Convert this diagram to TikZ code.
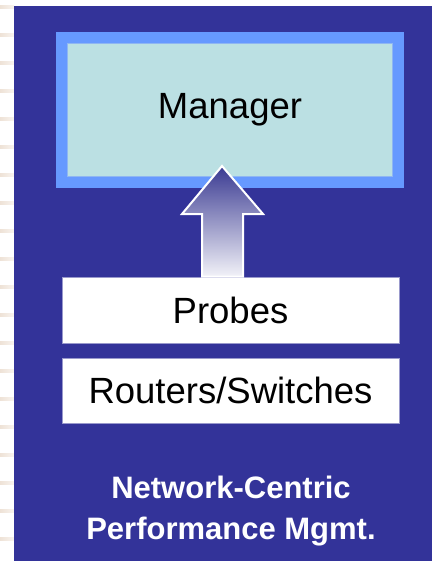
\documentclass[tikz,border=0pt]{standalone}
\usepackage{fontspec}
\setmainfont{Liberation Sans}
\usetikzlibrary{calc}
\definecolor{panelblue}{HTML}{333399}
\definecolor{mgrborder}{HTML}{6699FF}
\definecolor{mgrinner}{HTML}{8FB6F2}
\definecolor{mgrfill}{HTML}{BBE0E3}
\definecolor{boxedge}{HTML}{9999CC}
\definecolor{stripe}{HTML}{EEE2D6}
\definecolor{arrowtop}{HTML}{3A3A92}
\definecolor{arrowbot}{HTML}{F2F2F8}
\tikzset{
  layerbox/.style={draw=boxedge, line width=0.8pt, fill=white, minimum width=337pt,
    inner sep=0pt, font=\fontsize{36.5}{40}\selectfont},
  managerbox/.style={draw=mgrborder, line width=12pt, fill=mgrfill, minimum width=336pt,
    minimum height=144pt, inner sep=0pt, font=\fontsize{36.5}{40}\selectfont},
  caption/.style={text=white, align=center, inner sep=0pt,
    font=\bfseries\fontsize{31}{41}\selectfont},
  uparrow/.style={top color=arrowtop, bottom color=arrowbot, draw=white, line width=2pt,
    line join=miter},
  marginrule/.style={left color=stripe, right color=white!60!stripe}
}
\begin{document}
\begin{tikzpicture}[x=1pt,y=-1pt]
\useasboundingbox (0,0) rectangle (432,561);
\fill[white] (0,0) rectangle (432,561);
% faint ruled margin on the left
\foreach \k in {0,...,19}{
  \pgfmathsetmacro{\yy}{7+28*\k}
  \shade[marginrule] (0,\yy-1.5) rectangle (14,\yy+1.5);
}
% dark slide panel
\fill[panelblue] (14,6) rectangle (432,561);

\node[managerbox] (mgr) at (230,110) {Manager};
% thin light rim along the inner edge of the manager frame
\draw[mgrinner, line width=0.8pt] ($(mgr.south west)+(11.6,-11.6)$) rectangle ($(mgr.north east)+(-11.6,11.6)$);
\node[layerbox, minimum height=66pt] (probes) at (230.5,310) {Probes};
\node[layerbox, minimum height=65pt] (routers) at (230.5,390.5) {Routers/Switches};

% block arrow from the probes up into the manager
\coordinate (tip) at (222,166);
\coordinate (sl) at ($(probes.north)+(-28.5,0)$);
\coordinate (sr) at ($(probes.north)+(12.5,0)$);
\shade[uparrow] (tip) -- (263,214) -- (sr |- 0,214) -- (sr) -- (sl) -- (sl |- 0,214) -- (182,214) -- cycle;

\node[caption] (label) at (231,511.5) {Network-Centric\\Performance Mgmt.};
\end{tikzpicture}
\end{document}
